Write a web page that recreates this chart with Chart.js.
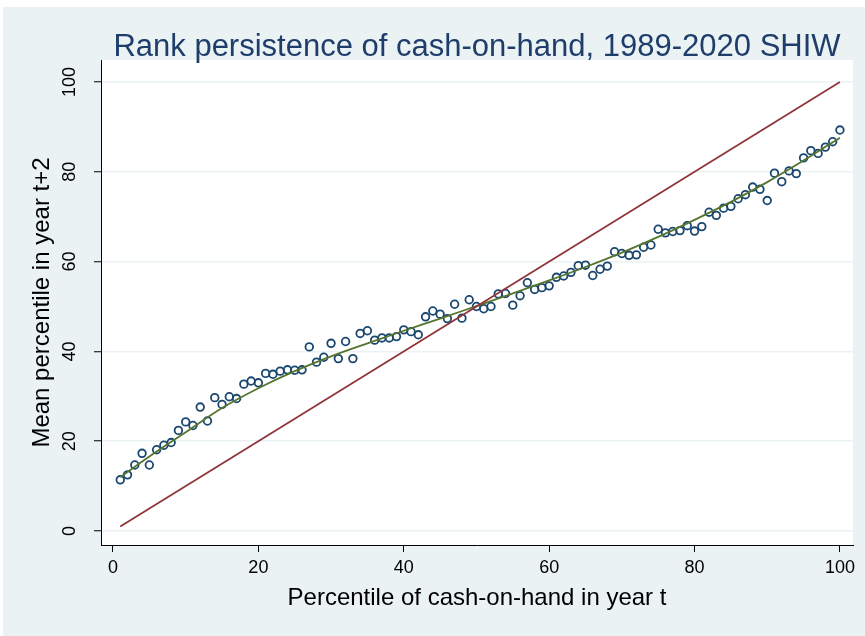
<!DOCTYPE html>
<html>
<head>
<meta charset="utf-8">
<script src="https://cdn.jsdelivr.net/npm/chart.js@4/dist/chart.umd.min.js"></script>
<style>
  html, body { margin: 0; padding: 0; background: #ffffff; }
  #wrap { position: absolute; left: 0; top: 0; width: 865px; height: 636px; }
</style>
</head>
<body>
<div id="wrap"><canvas id="chart" width="865" height="636"></canvas></div>
<script>
// Percentile of cash-on-hand in year t
const percentile = [
  1, 2, 3, 4, 5, 6, 7, 8, 9, 10,
  11, 12, 13, 14, 15, 16, 17, 18, 19, 20,
  21, 22, 23, 24, 25, 26, 27, 28, 29, 30,
  31, 32, 33, 34, 35, 36, 37, 38, 39, 40,
  41, 42, 43, 44, 45, 46, 47, 48, 49, 50,
  51, 52, 53, 54, 55, 56, 57, 58, 59, 60,
  61, 62, 63, 64, 65, 66, 67, 68, 69, 70,
  71, 72, 73, 74, 75, 76, 77, 78, 79, 80,
  81, 82, 83, 84, 85, 86, 87, 88, 89, 90,
  91, 92, 93, 94, 95, 96, 97, 98, 99, 100
];

// Mean percentile in year t+2
const meanPercentile = [
  11.4, 12.5, 14.7, 17.3, 14.7, 18.1, 19.1, 19.7, 22.4, 24.3,
  23.5, 27.6, 24.5, 29.7, 28.2, 29.9, 29.5, 32.7, 33.4, 33.0,
  35.1, 34.9, 35.6, 35.9, 35.8, 35.9, 41.0, 37.6, 38.7, 41.8,
  38.4, 42.2, 38.4, 44.0, 44.6, 42.5, 43.0, 43.0, 43.3, 44.8,
  44.4, 43.7, 47.7, 49.0, 48.3, 47.3, 50.5, 47.4, 51.5, 50.0,
  49.5, 50.0, 52.8, 52.9, 50.3, 52.4, 55.3, 53.8, 54.2, 54.6,
  56.5, 56.8, 57.6, 59.1, 59.2, 56.9, 58.3, 59.0, 62.2, 61.8,
  61.4, 61.5, 63.2, 63.7, 67.2, 66.4, 66.7, 66.9, 68.0, 66.8,
  67.8, 71.0, 70.3, 71.9, 72.3, 74.0, 74.9, 76.6, 76.1, 73.6,
  79.7, 77.8, 80.2, 79.6, 83.1, 84.7, 84.1, 85.5, 86.7, 89.3
];

// Smoothed fit of the mean percentile
const fitX = [1, 5, 10, 15, 20, 25, 30, 35, 40, 45, 50, 55, 60, 65, 70, 75, 80, 85, 90, 95, 100];
const fitY = [12.0, 16.6, 22.0, 27.4, 31.8, 35.6, 38.9, 41.8, 44.6, 47.3, 50.1, 52.9, 55.8, 58.8, 62.0, 65.5, 69.3, 73.3, 77.7, 82.5, 87.6];

// 45-degree line (perfect persistence)
const diagX = [1, 100];
const diagY = [1, 100];

// Axis ticks and texts
const xTicks = [0, 20, 40, 60, 80, 100];
const yTicks = [0, 20, 40, 60, 80, 100];
const titleText = 'Rank persistence of cash-on-hand, 1989-2020 SHIW';
const xTitle = 'Percentile of cash-on-hand in year t';
const yTitle = 'Mean percentile in year t+2';

const FONT = '"Liberation Sans", Arial, sans-serif';
const NAVY = '#1A476F';
const MAROON = '#90353B';
const GREEN = '#55752F';
const BG = '#EAF2F3';

const toPoints = (xs, ys) => xs.map((x, i) => ({ x: x, y: ys[i] }));

const backdrop = {
  id: 'backdrop',
  beforeDraw(chart) {
    const { ctx, chartArea } = chart;
    ctx.save();
    ctx.fillStyle = '#ffffff';
    ctx.fillRect(0, 0, chart.width, chart.height);
    ctx.fillStyle = BG;
    ctx.fillRect(3, 7, chart.width - 3, chart.height - 7);
    ctx.fillStyle = '#ffffff';
    ctx.fillRect(chartArea.left, chartArea.top, chartArea.right - chartArea.left, chartArea.bottom - chartArea.top);
    ctx.restore();
  },
  afterDraw(chart) {
    const { ctx, chartArea } = chart;
    const yScale = chart.scales.y;
    ctx.save();
    // Heading
    ctx.fillStyle = '#1F3D6B';
    ctx.font = '31px ' + FONT;
    ctx.textAlign = 'center';
    ctx.textBaseline = 'alphabetic';
    ctx.fillText(titleText, (chartArea.left + chartArea.right) / 2, 56);
    // Vertical tick labels on the y axis
    ctx.fillStyle = '#000000';
    ctx.font = '18px ' + FONT;
    ctx.textAlign = 'center';
    ctx.textBaseline = 'middle';
    yScale.ticks.forEach(t => {
      const py = yScale.getPixelForValue(t.value);
      ctx.save();
      ctx.translate(70, py);
      ctx.rotate(-Math.PI / 2);
      ctx.fillText(String(t.value), 0, 0);
      ctx.restore();
    });
    ctx.restore();
  }
};

new Chart(document.getElementById('chart'), {
  type: 'scatter',
  data: {
    datasets: [
      {
        label: 'diagonal',
        data: toPoints(diagX, diagY),
        showLine: true,
        borderColor: MAROON,
        borderWidth: 1.8,
        pointRadius: 0,
        order: 1
      },
      {
        label: 'fit',
        data: toPoints(fitX, fitY),
        showLine: true,
        borderColor: GREEN,
        borderWidth: 1.8,
        pointRadius: 0,
        cubicInterpolationMode: 'monotone',
        order: 2
      },
      {
        label: 'mean percentile',
        data: toPoints(percentile, meanPercentile),
        showLine: false,
        pointStyle: 'circle',
        pointRadius: 3.8,
        pointBorderWidth: 1.8,
        pointBorderColor: NAVY,
        pointBackgroundColor: 'rgba(0,0,0,0)',
        order: 3
      }
    ]
  },
  options: {
    responsive: false,
    animation: false,
    events: [],
    layout: { padding: { top: 60, right: 12, left: 0, bottom: 0 } },
    plugins: {
      legend: { display: false },
      tooltip: { enabled: false },
      title: { display: false }
    },
    scales: {
      x: {
        type: 'linear',
        min: -1.65,
        max: 101.8,
        afterBuildTicks: s => { s.ticks = xTicks.map(v => ({ value: v })); },
        afterFit: s => { s.height = 91; s.paddingLeft = 0; s.paddingRight = 0; },
        grid: {
          display: true,
          drawOnChartArea: false,
          drawTicks: true,
          tickLength: 7,
          tickColor: '#000000',
          tickWidth: 1
        },
        border: { display: true, color: '#000000', width: 1 },
        ticks: {
          color: '#000000',
          font: { family: FONT, size: 18 },
          padding: 5,
          maxRotation: 0,
          minRotation: 0
        },
        title: {
          display: true,
          text: xTitle,
          color: '#000000',
          font: { family: FONT, size: 24 },
          padding: { top: 0, bottom: 23 }
        }
      },
      y: {
        type: 'linear',
        min: -3.12,
        max: 104.9,
        afterBuildTicks: s => { s.ticks = yTicks.map(v => ({ value: v })); },
        afterFit: s => { s.width = 101; s.paddingTop = 0; s.paddingBottom = 0; },
        grid: {
          display: true,
          drawOnChartArea: true,
          drawTicks: true,
          tickLength: 7,
          color: BG,
          lineWidth: 1.5,
          tickColor: '#000000',
          tickWidth: 1
        },
        border: { display: true, color: '#000000', width: 1 },
        ticks: { display: false },
        title: {
          display: true,
          text: yTitle,
          color: '#000000',
          font: { family: FONT, size: 24 },
          padding: { top: 28, bottom: 0 }
        }
      }
    }
  },
  plugins: [backdrop]
});
</script>
</body>
</html>
